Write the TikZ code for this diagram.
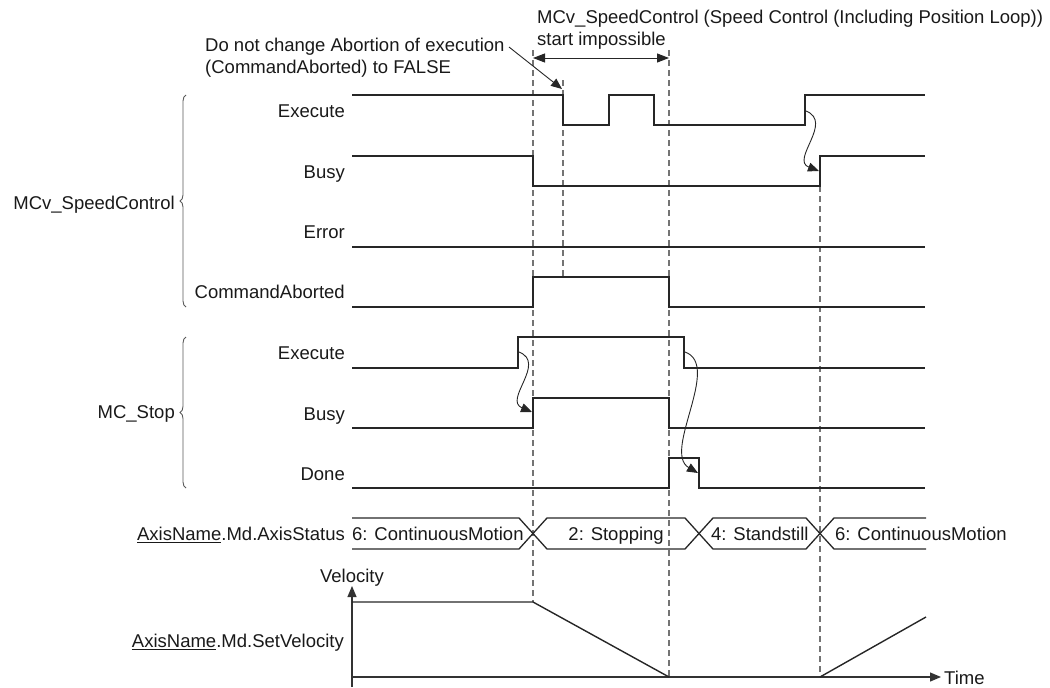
\documentclass[tikz,border=0pt]{standalone}
\usepackage{fontspec}
\setmainfont{Liberation Sans}
\usetikzlibrary{arrows.meta,decorations.pathreplacing}
\begin{document}
\begin{tikzpicture}[x=1pt,y=-1pt,
  sig/.style={line width=1.6pt, draw=black!85, line join=miter},
  guide/.style={dash pattern=on 6pt off 4pt, line width=1.1pt, draw=black!55},
  txt/.style={font=\fontsize{18.5}{22}\selectfont, text=black!90, inner sep=0pt},
  lbl/.style={txt, text height=13.3pt, text depth=0pt},
  brc/.style={decorate, decoration={brace, amplitude=6pt}, line width=0.9pt, draw=black!65},
  wave/.style={line width=0.9pt, draw=black!85, -{Triangle[length=11pt,width=9pt]}},
  axis/.style={line width=1.2pt, draw=black!80}
]
\useasboundingbox (0,0) rectangle (1050,688);

% ---- dashed guides
\draw[guide] (533,50) -- (533,602);
\draw[guide] (563,80) -- (563,277);
\draw[guide] (669,50) -- (669,677);
\draw[guide] (820,186) -- (820,677);

% ---- top annotations
\node[txt, anchor=west, align=left] (title) at (537,30)
  {MCv\_SpeedControl (Speed Control (Including Position Loop))\\start impossible};
\coordinate (ga) at (533,58);
\coordinate (gb) at (669,58);
\draw[line width=1pt, draw=black!85, {Triangle[length=12pt,width=9pt]}-{Triangle[length=12pt,width=9pt]}] (ga) -- (gb);

\node[txt, anchor=west, align=left] (note) at (205,58)
  {Do not change Abortion of execution\\(CommandAborted) to FALSE};
\coordinate (na) at (509,47);
\coordinate (nb) at (562,89);
\draw[line width=0.9pt, draw=black!85, -{Triangle[length=11pt,width=9pt]}] (na) -- (nb);

% ---- group labels and braces
\draw[brc] (186,307) -- (186,95);
\node[lbl, anchor=east] (g1) at (175,203) {MCv\_SpeedControl};
\draw[brc] (186,488) -- (186,337);
\node[lbl, anchor=east] (g2) at (175,412) {MC\_Stop};

% ---- signal labels
\node[lbl, anchor=east] (l1) at (345,111) {Execute};
\node[lbl, anchor=east] (l2) at (345,172) {Busy};
\node[lbl, anchor=east] (l3) at (345,232) {Error};
\node[lbl, anchor=east] (l4) at (345,292) {CommandAborted};
\node[lbl, anchor=east] (l5) at (345,353) {Execute};
\node[lbl, anchor=east] (l6) at (345,414) {Busy};
\node[lbl, anchor=east] (l7) at (345,474) {Done};

% ---- signals
\draw[sig] (352,95) -- (563,95) -- (563,125) -- (609,125) -- (609,95) -- (654,95) -- (654,125) -- (805,125) -- (805,95) -- (925,95);
\draw[sig] (352,156) -- (533,156) -- (533,186) -- (820,186) -- (820,156) -- (925,156);
\draw[sig] (352,247) -- (925,247);
\draw[sig] (352,307) -- (533,307) -- (533,277) -- (669,277) -- (669,307) -- (925,307);
\draw[sig] (352,368) -- (518,368) -- (518,337) -- (684,337) -- (684,368) -- (925,368);
\draw[sig] (352,428) -- (533,428) -- (533,398) -- (669,398) -- (669,428) -- (925,428);
\draw[sig] (352,488) -- (669,488) -- (669,458) -- (699,458) -- (699,488) -- (925,488);

% ---- causal wavy arrows
\coordinate (w1a) at (806,111);
\coordinate (w1b) at (819,171);
\draw[wave] (w1a) .. controls (834,122) and (790,160) .. (w1b);
\coordinate (w2a) at (519,352);
\coordinate (w2b) at (532,412);
\draw[wave] (w2a) .. controls (547,363) and (503,400) .. (w2b);
\coordinate (w3a) at (685,352);
\coordinate (w3b) at (698,473);
\draw[wave] (w3a) .. controls (722,365) and (662,452) .. (w3b);

% ---- axis status bar
\node[lbl, anchor=east] (st) at (345,534) {\underline{AxisName}.Md.AxisStatus};
\draw[sig, line width=1.3pt] (352,518) -- (519,518) -- (547,549) -- (685,549) -- (713,518) -- (806,518) -- (834,549) -- (926,549);
\draw[sig, line width=1.3pt] (352,549) -- (519,549) -- (547,518) -- (685,518) -- (713,549) -- (806,549) -- (834,518) -- (926,518);
\node[lbl, anchor=west] (s1) at (352,534) {6: ContinuousMotion};
\node[lbl, anchor=east] (s2) at (664,534) {2: Stopping};
\node[lbl, anchor=west] (s3) at (711,534) {4: Standstill};
\node[lbl, anchor=west] (s4) at (835,534) {6: ContinuousMotion};

% ---- velocity chart
\node[lbl] (vel) at (352,576) {Velocity};
\node[lbl, anchor=east] (sv) at (344,641) {\underline{AxisName}.Md.SetVelocity};
\coordinate (o) at (352,687);
\coordinate (vtop) at (352,586);
\draw[axis, -{Triangle[length=11pt,width=9pt]}] (o) -- (vtop);
\coordinate (t0) at (352,677);
\coordinate (t1) at (941,677);
\draw[axis, -{Triangle[length=11pt,width=9pt]}] (t0) -- (t1);
\node[lbl, anchor=west] (time) at (944,678) {Time};
\draw[sig, line width=1.4pt] (352,602) -- (533,602) -- (669,677);
\draw[sig, line width=1.4pt] (820,677) -- (926,617);
\end{tikzpicture}
\end{document}
